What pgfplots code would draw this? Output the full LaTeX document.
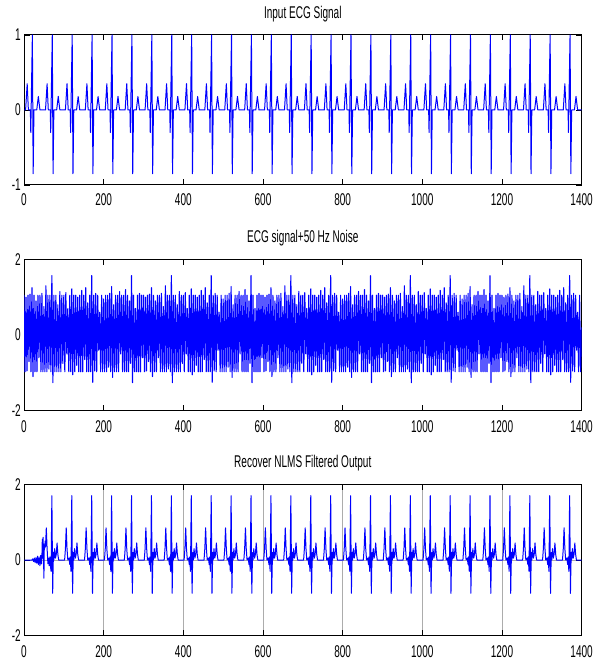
\documentclass[border=0pt]{standalone}
\usepackage{fontspec}
\setmainfont{Liberation Sans}[FakeStretch=0.59]
\usepackage{pgfplots}
\pgfplotsset{compat=1.18}
\definecolor{mblue}{RGB}{0,0,255}
\pgfplotsset{
 ecgax/.style={
  scale only axis, width=557.6bp, anchor=south west,
  xmin=0, xmax=1400, xtick={0,200,400,600,800,1000,1200,1400},
  xticklabels={0,200,400,600,800,1000,1200,1400},
  tick align=inside, major tick length=5.5bp,
  tick style={black, line width=0.7bp},
  axis line style={black, line width=1bp},
  every tick label/.append style={inner sep=0pt},
  xticklabel style={yshift=-9.5bp},
  yticklabel style={xshift=-3bp},
  title style={at={(0.5,1)}, anchor=base, yshift=11bp, inner sep=0pt},
  every axis plot/.append style={mblue, line width=1bp, line join=round, no markers},
 }
}
\begin{document}
\fontsize{17bp}{20bp}\selectfont
\begin{tikzpicture}
\path[use as bounding box] (0,0) rectangle (610bp,666bp);
% ---------------- top
\begin{axis}[ecgax, at={(24bp,481bp)}, height=150bp,
  ymin=-1, ymax=1, ytick={-1,0,1}, yticklabels={-1,0,1},
  xticklabel style={yshift=1.5bp},
  title={Input ECG Signal}]
\addplot coordinates {(1,0)
(4,0)(8,.35)(11,0)(16,0)(17,-.3)(21,1)(23,-.85)(25,0)(32,0)(36,.18)(40,0)
(54,0)(58,.35)(61,0)(66,0)(67,-.3)(71,1)(73,-.85)(75,0)(82,0)(86,.18)(90,0)
(104,0)(108,.35)(111,0)(116,0)(117,-.3)(121,1)(123,-.85)(125,0)(132,0)(136,.18)(140,0)
(154,0)(158,.35)(161,0)(166,0)(167,-.3)(171,1)(173,-.85)(175,0)(182,0)(186,.18)(190,0)
(204,0)(208,.35)(211,0)(216,0)(217,-.3)(221,1)(223,-.85)(225,0)(232,0)(236,.18)(240,0)
(254,0)(258,.35)(261,0)(266,0)(267,-.3)(271,1)(273,-.85)(275,0)(282,0)(286,.18)(290,0)
(304,0)(308,.35)(311,0)(316,0)(317,-.3)(321,1)(323,-.85)(325,0)(332,0)(336,.18)(340,0)
(354,0)(358,.35)(361,0)(366,0)(367,-.3)(371,1)(373,-.85)(375,0)(382,0)(386,.18)(390,0)
(404,0)(408,.35)(411,0)(416,0)(417,-.3)(421,1)(423,-.85)(425,0)(432,0)(436,.18)(440,0)
(454,0)(458,.35)(461,0)(466,0)(467,-.3)(471,1)(473,-.85)(475,0)(482,0)(486,.18)(490,0)
(504,0)(508,.35)(511,0)(516,0)(517,-.3)(521,1)(523,-.85)(525,0)(532,0)(536,.18)(540,0)
(554,0)(558,.35)(561,0)(566,0)(567,-.3)(571,1)(573,-.85)(575,0)(582,0)(586,.18)(590,0)
(604,0)(608,.35)(611,0)(616,0)(617,-.3)(621,1)(623,-.85)(625,0)(632,0)(636,.18)(640,0)
(654,0)(658,.35)(661,0)(666,0)(667,-.3)(671,1)(673,-.85)(675,0)(682,0)(686,.18)(690,0)
(704,0)(708,.35)(711,0)(716,0)(717,-.3)(721,1)(723,-.85)(725,0)(732,0)(736,.18)(740,0)
(754,0)(758,.35)(761,0)(766,0)(767,-.3)(771,1)(773,-.85)(775,0)(782,0)(786,.18)(790,0)
(804,0)(808,.35)(811,0)(816,0)(817,-.3)(821,1)(823,-.85)(825,0)(832,0)(836,.18)(840,0)
(854,0)(858,.35)(861,0)(866,0)(867,-.3)(871,1)(873,-.85)(875,0)(882,0)(886,.18)(890,0)
(904,0)(908,.35)(911,0)(916,0)(917,-.3)(921,1)(923,-.85)(925,0)(932,0)(936,.18)(940,0)
(954,0)(958,.35)(961,0)(966,0)(967,-.3)(971,1)(973,-.85)(975,0)(982,0)(986,.18)(990,0)
(1004,0)(1008,.35)(1011,0)(1016,0)(1017,-.3)(1021,1)(1023,-.85)(1025,0)(1032,0)(1036,.18)(1040,0)
(1054,0)(1058,.35)(1061,0)(1066,0)(1067,-.3)(1071,1)(1073,-.85)(1075,0)(1082,0)(1086,.18)(1090,0)
(1104,0)(1108,.35)(1111,0)(1116,0)(1117,-.3)(1121,1)(1123,-.85)(1125,0)(1132,0)(1136,.18)(1140,0)
(1154,0)(1158,.35)(1161,0)(1166,0)(1167,-.3)(1171,1)(1173,-.85)(1175,0)(1182,0)(1186,.18)(1190,0)
(1204,0)(1208,.35)(1211,0)(1216,0)(1217,-.3)(1221,1)(1223,-.85)(1225,0)(1232,0)(1236,.18)(1240,0)
(1254,0)(1258,.35)(1261,0)(1266,0)(1267,-.3)(1271,1)(1273,-.85)(1275,0)(1282,0)(1286,.18)(1290,0)
(1304,0)(1308,.35)(1311,0)(1316,0)(1317,-.3)(1321,1)(1323,-.85)(1325,0)(1332,0)(1336,.18)(1340,0)
(1354,0)(1358,.35)(1361,0)(1366,0)(1367,-.3)(1371,1)(1373,-.85)(1375,0)(1382,0)(1386,.18)(1390,0)
(1400,0)};
\end{axis}
% ---------------- middle
\begin{axis}[ecgax, at={(24bp,255.3bp)}, height=151.4bp,
  ymin=-2, ymax=2, ytick={-2,0,2}, yticklabels={-2,0,2},
  title={ECG signal+50 Hz Noise}]
\addplot+[line width=1.1bp] coordinates {
(0,1.05)(2.5,-.97)(5,1)(7.5,-.95)(10,1.05)(12.5,-.7)(15,1.08)(17.5,-.97)(20,1.25)(22.5,-1.1)(25,1.05)(27.5,-.97)(30,.9)(32.5,-.97)(35,1.05)(37.5,-.6)(40,1.05)(42.5,-.97)(45,1.1)(47.5,-.97)(50,.75)(52.5,-.97)(55,1.3)(57.5,-.97)(60,1.05)(62.5,-.9)(65,1.05)(67.5,-.97)(70,1.57)(72.5,-1.26)(75,1.05)(77.5,-.97)(80,1.05)(82.5,-.97)(85,.8)(87.5,-.97)(90,1.15)(92.5,-.97)(95,1.05)(97.5,-.75)
(100,1.05)(102.5,-.97)(105,1.12)(107.5,-.5)(110,.7)(112.5,-.97)(115,1.05)(117.5,-.97)(120,1.22)(122.5,-1.05)(125,1.05)(127.5,-.97)(130,1.05)(132.5,-.8)(135,1)(137.5,-.97)(140,1.05)(142.5,-.97)(145,1.18)(147.5,-.97)(150,1.05)(152.5,-.65)(155,1.25)(157.5,-.97)(160,.85)(162.5,-.97)(165,1.05)(167.5,-.97)(170,1.57)(172.5,-1.25)(175,1.05)(177.5,-.95)(180,1.1)(182.5,-.97)(185,1.05)(187.5,-.4)(190,.6)(192.5,-.97)(195,1.05)(197.5,-.97)
(200,.95)(202.5,-.97)(205,1.05)(207.5,-.97)(210,1.05)(212.5,-.85)(215,1.1)(217.5,-.97)(220,1.28)(222.5,-1.12)(225,.8)(227.5,-.97)(230,1.05)(232.5,-.97)(235,1.05)(237.5,-.97)(240,1.15)(242.5,-.5)(245,1.05)(247.5,-.97)(250,1.05)(252.5,-.97)(255,1.2)(257.5,-.97)(260,1.05)(262.5,-.97)(265,.9)(267.5,-.75)(270,1.57)(272.5,-1.26)(275,1.05)(277.5,-.97)(280,.7)(282.5,-.97)(285,1.05)(287.5,-.97)(290,1.1)(292.5,-.97)(295,1.05)(297.5,-.6)
(300,1.05)(302.5,-.97)(305,1)(307.5,-.95)(310,1.05)(312.5,-.7)(315,1.08)(317.5,-.97)(320,1.25)(322.5,-1.1)(325,1.05)(327.5,-.97)(330,.9)(332.5,-.97)(335,1.05)(337.5,-.6)(340,1.05)(342.5,-.97)(345,1.1)(347.5,-.97)(350,.75)(352.5,-.97)(355,1.3)(357.5,-.97)(360,1.05)(362.5,-.9)(365,1.05)(367.5,-.97)(370,1.57)(372.5,-1.26)(375,1.05)(377.5,-.97)(380,1.05)(382.5,-.97)(385,.8)(387.5,-.97)(390,1.15)(392.5,-.97)(395,1.05)(397.5,-.75)
(400,1.05)(402.5,-.97)(405,1.12)(407.5,-.5)(410,.7)(412.5,-.97)(415,1.05)(417.5,-.97)(420,1.22)(422.5,-1.05)(425,1.05)(427.5,-.97)(430,1.05)(432.5,-.8)(435,1)(437.5,-.97)(440,1.05)(442.5,-.97)(445,1.18)(447.5,-.97)(450,1.05)(452.5,-.65)(455,1.25)(457.5,-.97)(460,.85)(462.5,-.97)(465,1.05)(467.5,-.97)(470,1.57)(472.5,-1.25)(475,1.05)(477.5,-.95)(480,1.1)(482.5,-.97)(485,1.05)(487.5,-.4)(490,.6)(492.5,-.97)(495,1.05)(497.5,-.97)
(500,.95)(502.5,-.97)(505,1.05)(507.5,-.97)(510,1.05)(512.5,-.85)(515,1.1)(517.5,-.97)(520,1.28)(522.5,-1.12)(525,.8)(527.5,-.97)(530,1.05)(532.5,-.97)(535,1.05)(537.5,-.97)(540,1.15)(542.5,-.5)(545,1.05)(547.5,-.97)(550,1.05)(552.5,-.97)(555,1.2)(557.5,-.97)(560,1.05)(562.5,-.97)(565,.9)(567.5,-.75)(570,1.57)(572.5,-1.26)(575,1.05)(577.5,-.97)(580,.7)(582.5,-.97)(585,1.05)(587.5,-.97)(590,1.1)(592.5,-.97)(595,1.05)(597.5,-.6)
(600,1.05)(602.5,-.97)(605,1)(607.5,-.95)(610,1.05)(612.5,-.7)(615,1.08)(617.5,-.97)(620,1.25)(622.5,-1.1)(625,1.05)(627.5,-.97)(630,.9)(632.5,-.97)(635,1.05)(637.5,-.6)(640,1.05)(642.5,-.97)(645,1.1)(647.5,-.97)(650,.75)(652.5,-.97)(655,1.3)(657.5,-.97)(660,1.05)(662.5,-.9)(665,1.05)(667.5,-.97)(670,1.57)(672.5,-1.26)(675,1.05)(677.5,-.97)(680,1.05)(682.5,-.97)(685,.8)(687.5,-.97)(690,1.15)(692.5,-.97)(695,1.05)(697.5,-.75)
(700,1.05)(702.5,-.97)(705,1.12)(707.5,-.5)(710,.7)(712.5,-.97)(715,1.05)(717.5,-.97)(720,1.22)(722.5,-1.05)(725,1.05)(727.5,-.97)(730,1.05)(732.5,-.8)(735,1)(737.5,-.97)(740,1.05)(742.5,-.97)(745,1.18)(747.5,-.97)(750,1.05)(752.5,-.65)(755,1.25)(757.5,-.97)(760,.85)(762.5,-.97)(765,1.05)(767.5,-.97)(770,1.57)(772.5,-1.25)(775,1.05)(777.5,-.95)(780,1.1)(782.5,-.97)(785,1.05)(787.5,-.4)(790,.6)(792.5,-.97)(795,1.05)(797.5,-.97)
(800,.95)(802.5,-.97)(805,1.05)(807.5,-.97)(810,1.05)(812.5,-.85)(815,1.1)(817.5,-.97)(820,1.28)(822.5,-1.12)(825,.8)(827.5,-.97)(830,1.05)(832.5,-.97)(835,1.05)(837.5,-.97)(840,1.15)(842.5,-.5)(845,1.05)(847.5,-.97)(850,1.05)(852.5,-.97)(855,1.2)(857.5,-.97)(860,1.05)(862.5,-.97)(865,.9)(867.5,-.75)(870,1.57)(872.5,-1.26)(875,1.05)(877.5,-.97)(880,.7)(882.5,-.97)(885,1.05)(887.5,-.97)(890,1.1)(892.5,-.97)(895,1.05)(897.5,-.6)
(900,1.05)(902.5,-.97)(905,1)(907.5,-.95)(910,1.05)(912.5,-.7)(915,1.08)(917.5,-.97)(920,1.25)(922.5,-1.1)(925,1.05)(927.5,-.97)(930,.9)(932.5,-.97)(935,1.05)(937.5,-.6)(940,1.05)(942.5,-.97)(945,1.1)(947.5,-.97)(950,.75)(952.5,-.97)(955,1.3)(957.5,-.97)(960,1.05)(962.5,-.9)(965,1.05)(967.5,-.97)(970,1.57)(972.5,-1.26)(975,1.05)(977.5,-.97)(980,1.05)(982.5,-.97)(985,.8)(987.5,-.97)(990,1.15)(992.5,-.97)(995,1.05)(997.5,-.75)
(1000,1.05)(1002.5,-.97)(1005,1.12)(1007.5,-.5)(1010,.7)(1012.5,-.97)(1015,1.05)(1017.5,-.97)(1020,1.22)(1022.5,-1.05)(1025,1.05)(1027.5,-.97)(1030,1.05)(1032.5,-.8)(1035,1)(1037.5,-.97)(1040,1.05)(1042.5,-.97)(1045,1.18)(1047.5,-.97)(1050,1.05)(1052.5,-.65)(1055,1.25)(1057.5,-.97)(1060,.85)(1062.5,-.97)(1065,1.05)(1067.5,-.97)(1070,1.57)(1072.5,-1.25)(1075,1.05)(1077.5,-.95)(1080,1.1)(1082.5,-.97)(1085,1.05)(1087.5,-.4)(1090,.6)(1092.5,-.97)(1095,1.05)(1097.5,-.97)
(1100,.95)(1102.5,-.97)(1105,1.05)(1107.5,-.97)(1110,1.05)(1112.5,-.85)(1115,1.1)(1117.5,-.97)(1120,1.28)(1122.5,-1.12)(1125,.8)(1127.5,-.97)(1130,1.05)(1132.5,-.97)(1135,1.05)(1137.5,-.97)(1140,1.15)(1142.5,-.5)(1145,1.05)(1147.5,-.97)(1150,1.05)(1152.5,-.97)(1155,1.2)(1157.5,-.97)(1160,1.05)(1162.5,-.97)(1165,.9)(1167.5,-.75)(1170,1.57)(1172.5,-1.26)(1175,1.05)(1177.5,-.97)(1180,.7)(1182.5,-.97)(1185,1.05)(1187.5,-.97)(1190,1.1)(1192.5,-.97)(1195,1.05)(1197.5,-.6)
(1200,1.05)(1202.5,-.97)(1205,1)(1207.5,-.95)(1210,1.05)(1212.5,-.7)(1215,1.08)(1217.5,-.97)(1220,1.25)(1222.5,-1.1)(1225,1.05)(1227.5,-.97)(1230,.9)(1232.5,-.97)(1235,1.05)(1237.5,-.6)(1240,1.05)(1242.5,-.97)(1245,1.1)(1247.5,-.97)(1250,.75)(1252.5,-.97)(1255,1.3)(1257.5,-.97)(1260,1.05)(1262.5,-.9)(1265,1.05)(1267.5,-.97)(1270,1.57)(1272.5,-1.26)(1275,1.05)(1277.5,-.97)(1280,1.05)(1282.5,-.97)(1285,.8)(1287.5,-.97)(1290,1.15)(1292.5,-.97)(1295,1.05)(1297.5,-.75)
(1300,1.05)(1302.5,-.97)(1305,1.12)(1307.5,-.5)(1310,.7)(1312.5,-.97)(1315,1.05)(1317.5,-.97)(1320,1.22)(1322.5,-1.05)(1325,1.05)(1327.5,-.97)(1330,1.05)(1332.5,-.8)(1335,1)(1337.5,-.97)(1340,1.05)(1342.5,-.97)(1345,1.18)(1347.5,-.97)(1350,1.05)(1352.5,-.65)(1355,1.25)(1357.5,-.97)(1360,.85)(1362.5,-.97)(1365,1.05)(1367.5,-.97)(1370,1.57)(1372.5,-1.25)(1375,1.05)(1377.5,-.95)(1380,1.1)(1382.5,-.97)(1385,1.05)(1387.5,-.4)(1390,.6)(1392.5,-.97)(1395,1.05)(1397.5,-.97)
(1400,.2)};
\end{axis}
% ---------------- bottom
\begin{axis}[ecgax, at={(24bp,30.3bp)}, height=151.4bp,
  ymin=-2, ymax=2, ytick={-2,0,2}, yticklabels={-2,0,2},
  xmajorgrids, ymajorgrids, major grid style={gray!65, line width=0.5bp},
  title={Recover NLMS Filtered Output}]
\addplot coordinates {(1,0)(20,0)(22,.03)(24,-.04)(26,.05)(28,-.07)(30,.06)(32,-.08)(34,.1)(36,-.12)(38,.08)(40,-.15)(42,.12)(44,-.1)(45,.1)(46,.55)(47,.05)(48,.6)(49,.1)(50,-.48)(51,.4)(52,.3)(53,.5)(54,.35)(56,.85)(58,.3)(60,-.1)(62,.05)(63,-.15)(65,.08)(66,-.12)(68,-.3)(70,1.7)(72,-.88)(73,-.25)(74,.2)(75,0)(77,.3)(79,.05)(81,.15)(83,.45)(85,.15)(87,0)
(102,0)(104,.3)(106,.85)(108,.3)(110,0)(113,.05)(115,-.12)(116,.08)(118,-.3)(120,1.7)(122,-.88)(123,-.25)(124,.2)(125,0)(127,.3)(129,.05)(131,.15)(133,.45)(135,.15)(137,0)
(152,0)(154,.3)(156,.85)(158,.3)(160,0)(163,.05)(165,-.12)(166,.08)(168,-.3)(170,1.7)(172,-.88)(173,-.25)(174,.2)(175,0)(177,.3)(179,.05)(181,.15)(183,.45)(185,.15)(187,0)
(202,0)(204,.3)(206,.85)(208,.3)(210,0)(213,.05)(215,-.12)(216,.08)(218,-.3)(220,1.7)(222,-.88)(223,-.25)(224,.2)(225,0)(227,.3)(229,.05)(231,.15)(233,.45)(235,.15)(237,0)
(252,0)(254,.3)(256,.85)(258,.3)(260,0)(263,.05)(265,-.12)(266,.08)(268,-.3)(270,1.7)(272,-.88)(273,-.25)(274,.2)(275,0)(277,.3)(279,.05)(281,.15)(283,.45)(285,.15)(287,0)
(302,0)(304,.3)(306,.85)(308,.3)(310,0)(313,.05)(315,-.12)(316,.08)(318,-.3)(320,1.7)(322,-.88)(323,-.25)(324,.2)(325,0)(327,.3)(329,.05)(331,.15)(333,.45)(335,.15)(337,0)
(352,0)(354,.3)(356,.85)(358,.3)(360,0)(363,.05)(365,-.12)(366,.08)(368,-.3)(370,1.7)(372,-.88)(373,-.25)(374,.2)(375,0)(377,.3)(379,.05)(381,.15)(383,.45)(385,.15)(387,0)
(402,0)(404,.3)(406,.85)(408,.3)(410,0)(413,.05)(415,-.12)(416,.08)(418,-.3)(420,1.7)(422,-.88)(423,-.25)(424,.2)(425,0)(427,.3)(429,.05)(431,.15)(433,.45)(435,.15)(437,0)
(452,0)(454,.3)(456,.85)(458,.3)(460,0)(463,.05)(465,-.12)(466,.08)(468,-.3)(470,1.7)(472,-.88)(473,-.25)(474,.2)(475,0)(477,.3)(479,.05)(481,.15)(483,.45)(485,.15)(487,0)
(502,0)(504,.3)(506,.85)(508,.3)(510,0)(513,.05)(515,-.12)(516,.08)(518,-.3)(520,1.7)(522,-.88)(523,-.25)(524,.2)(525,0)(527,.3)(529,.05)(531,.15)(533,.45)(535,.15)(537,0)
(552,0)(554,.3)(556,.85)(558,.3)(560,0)(563,.05)(565,-.12)(566,.08)(568,-.3)(570,1.7)(572,-.88)(573,-.25)(574,.2)(575,0)(577,.3)(579,.05)(581,.15)(583,.45)(585,.15)(587,0)
(602,0)(604,.3)(606,.85)(608,.3)(610,0)(613,.05)(615,-.12)(616,.08)(618,-.3)(620,1.7)(622,-.88)(623,-.25)(624,.2)(625,0)(627,.3)(629,.05)(631,.15)(633,.45)(635,.15)(637,0)
(652,0)(654,.3)(656,.85)(658,.3)(660,0)(663,.05)(665,-.12)(666,.08)(668,-.3)(670,1.7)(672,-.88)(673,-.25)(674,.2)(675,0)(677,.3)(679,.05)(681,.15)(683,.45)(685,.15)(687,0)
(702,0)(704,.3)(706,.85)(708,.3)(710,0)(713,.05)(715,-.12)(716,.08)(718,-.3)(720,1.7)(722,-.88)(723,-.25)(724,.2)(725,0)(727,.3)(729,.05)(731,.15)(733,.45)(735,.15)(737,0)
(752,0)(754,.3)(756,.85)(758,.3)(760,0)(763,.05)(765,-.12)(766,.08)(768,-.3)(770,1.7)(772,-.88)(773,-.25)(774,.2)(775,0)(777,.3)(779,.05)(781,.15)(783,.45)(785,.15)(787,0)
(802,0)(804,.3)(806,.85)(808,.3)(810,0)(813,.05)(815,-.12)(816,.08)(818,-.3)(820,1.7)(822,-.88)(823,-.25)(824,.2)(825,0)(827,.3)(829,.05)(831,.15)(833,.45)(835,.15)(837,0)
(852,0)(854,.3)(856,.85)(858,.3)(860,0)(863,.05)(865,-.12)(866,.08)(868,-.3)(870,1.7)(872,-.88)(873,-.25)(874,.2)(875,0)(877,.3)(879,.05)(881,.15)(883,.45)(885,.15)(887,0)
(902,0)(904,.3)(906,.85)(908,.3)(910,0)(913,.05)(915,-.12)(916,.08)(918,-.3)(920,1.7)(922,-.88)(923,-.25)(924,.2)(925,0)(927,.3)(929,.05)(931,.15)(933,.45)(935,.15)(937,0)
(952,0)(954,.3)(956,.85)(958,.3)(960,0)(963,.05)(965,-.12)(966,.08)(968,-.3)(970,1.7)(972,-.88)(973,-.25)(974,.2)(975,0)(977,.3)(979,.05)(981,.15)(983,.45)(985,.15)(987,0)
(1002,0)(1004,.3)(1006,.85)(1008,.3)(1010,0)(1013,.05)(1015,-.12)(1016,.08)(1018,-.3)(1020,1.7)(1022,-.88)(1023,-.25)(1024,.2)(1025,0)(1027,.3)(1029,.05)(1031,.15)(1033,.45)(1035,.15)(1037,0)
(1052,0)(1054,.3)(1056,.85)(1058,.3)(1060,0)(1063,.05)(1065,-.12)(1066,.08)(1068,-.3)(1070,1.7)(1072,-.88)(1073,-.25)(1074,.2)(1075,0)(1077,.3)(1079,.05)(1081,.15)(1083,.45)(1085,.15)(1087,0)
(1102,0)(1104,.3)(1106,.85)(1108,.3)(1110,0)(1113,.05)(1115,-.12)(1116,.08)(1118,-.3)(1120,1.7)(1122,-.88)(1123,-.25)(1124,.2)(1125,0)(1127,.3)(1129,.05)(1131,.15)(1133,.45)(1135,.15)(1137,0)
(1152,0)(1154,.3)(1156,.85)(1158,.3)(1160,0)(1163,.05)(1165,-.12)(1166,.08)(1168,-.3)(1170,1.7)(1172,-.88)(1173,-.25)(1174,.2)(1175,0)(1177,.3)(1179,.05)(1181,.15)(1183,.45)(1185,.15)(1187,0)
(1202,0)(1204,.3)(1206,.85)(1208,.3)(1210,0)(1213,.05)(1215,-.12)(1216,.08)(1218,-.3)(1220,1.7)(1222,-.88)(1223,-.25)(1224,.2)(1225,0)(1227,.3)(1229,.05)(1231,.15)(1233,.45)(1235,.15)(1237,0)
(1252,0)(1254,.3)(1256,.85)(1258,.3)(1260,0)(1263,.05)(1265,-.12)(1266,.08)(1268,-.3)(1270,1.7)(1272,-.88)(1273,-.25)(1274,.2)(1275,0)(1277,.3)(1279,.05)(1281,.15)(1283,.45)(1285,.15)(1287,0)
(1302,0)(1304,.3)(1306,.85)(1308,.3)(1310,0)(1313,.05)(1315,-.12)(1316,.08)(1318,-.3)(1320,1.7)(1322,-.88)(1323,-.25)(1324,.2)(1325,0)(1327,.3)(1329,.05)(1331,.15)(1333,.45)(1335,.15)(1337,0)
(1352,0)(1354,.3)(1356,.85)(1358,.3)(1360,0)(1363,.05)(1365,-.12)(1366,.08)(1368,-.3)(1370,1.7)(1372,-.88)(1373,-.25)(1374,.2)(1375,0)(1377,.3)(1379,.05)(1381,.15)(1383,.45)(1385,.15)(1387,0)
(1400,0)};
\end{axis}
\end{tikzpicture}
\end{document}
